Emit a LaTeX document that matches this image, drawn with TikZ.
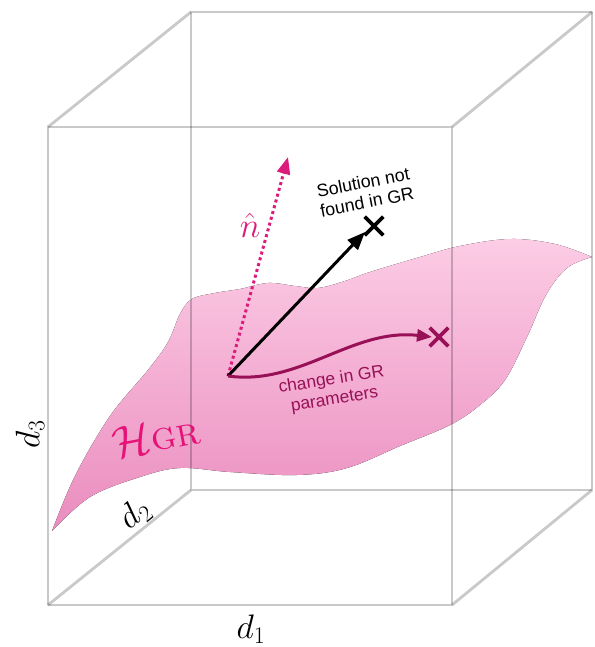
\RequirePackage{fix-cm}
\documentclass[tikz,border=0pt]{standalone}
\usepackage{fontspec}
\newfontfamily\lsans{Liberation Sans}
\usetikzlibrary{arrows.meta,shapes.misc}
\definecolor{surftop}{RGB}{252,204,229}
\definecolor{surfbot}{RGB}{234,140,190}
\definecolor{nmag}{RGB}{220,28,124}
\definecolor{hmag}{RGB}{230,18,120}
\definecolor{cpurp}{RGB}{152,16,86}
\newcommand{\bigsz}{\fontsize{34}{38}\selectfont}
\tikzset{
  cube/.style={line width=2.8pt, draw=black, draw opacity=0.21, line join=round},
  surface/.style={top color=surftop, bottom color=surfbot, draw=none},
  xmark/.style={cross out, draw, line width=3.6pt, minimum size=15pt, inner sep=0pt},
  blackarrow/.style={line width=3pt, -{Triangle[length=18pt,width=14pt]}},
  dotarrow/.style={line width=3pt, draw=nmag, dash pattern=on 3pt off 3pt, -{Triangle[length=17pt,width=13pt,fill=nmag]}},
  curvearrow/.style={line width=3pt, draw=cpurp, -{Triangle[length=15pt,width=12pt,fill=cpurp]}},
  axislbl/.style={inner sep=0pt},
  sanslbl/.style={align=center, inner sep=0pt, font=\lsans\fontsize{17.8}{20}\selectfont},
}
\begin{document}
\begin{tikzpicture}[x=1pt,y=-1pt]
\useasboundingbox (0,0) rectangle (594,647);
% surface
\fill[surface] plot[smooth, tension=0.6] coordinates {(52,531) (75,476) (110,416) (148,370) (168,342) (180,314) (192,299) (215,293) (240,289) (268,283) (295,286) (318,288) (345,281) (370,272) (420,257) (460,246) (510,239) (555,244) (592,257)}
  -- plot[smooth, tension=0.6] coordinates {(592,257) (567,268) (546,295) (527,337) (505,380) (480,405) (450,425) (400,446) (347,468) (297,475) (230,472) (180,468) (140,477) (90,497) (52,531)} -- cycle;
% cube
\coordinate (f1) at (48,127); \coordinate (f2) at (452,127);
\coordinate (f3) at (452,605); \coordinate (f4) at (48,605);
\coordinate (b1) at (191,12); \coordinate (b2) at (592,12);
\coordinate (b3) at (592,490); \coordinate (b4) at (191,490);
\draw[cube] (f1) -- (f2) -- (f3) -- (f4) -- cycle;
\draw[cube] (b1) -- (b2) -- (b3) -- (b4) -- cycle;
\draw[cube] (f1) -- (b1);
\draw[cube] (f2) -- (b2);
\draw[cube] (f3) -- (b3);
\draw[cube] (f4) -- (b4);
% labels
\node[axislbl] (d1) at (251,629) {\bigsz$d_1$};
\node[axislbl, rotate=39] (d2) at (135,514) {\bigsz$d_2$};
\node[axislbl, rotate=90] (d3) at (30,434) {\bigsz$d_3$};
\node[inner sep=0pt, text=hmag, rotate=11] (H) at (156,436) {\fontsize{45}{48}\selectfont$\mathcal{H}$\fontsize{40}{42}\selectfont\textsc{gr}};
\node[inner sep=0pt, text=nmag] (nlbl) at (250,225) {\fontsize{35}{38}\selectfont$\hat{n}$};
\node[sanslbl, rotate=11] (sol) at (365,192) {Solution not\\found in GR};
\node[sanslbl, text=cpurp, rotate=9, font=\lsans\fontsize{17.4}{20}\selectfont] (chg) at (333,390) {change in GR\\parameters};
% arrows
\coordinate (o) at (228,376);
\coordinate (ntip) at (288,157);
\node[xmark, draw=black] (xb) at (374,226) {};
\node[xmark, draw=cpurp] (xp) at (439,337) {};
\draw[dotarrow] (o) -- (ntip);
\draw[blackarrow] (o) -- ([shift={(-9,6)}]xb.center);
\draw[curvearrow] (o) .. controls (300,386) and (352,328) .. ([shift={(-7,0)}]xp.center);
\end{tikzpicture}
\end{document}
